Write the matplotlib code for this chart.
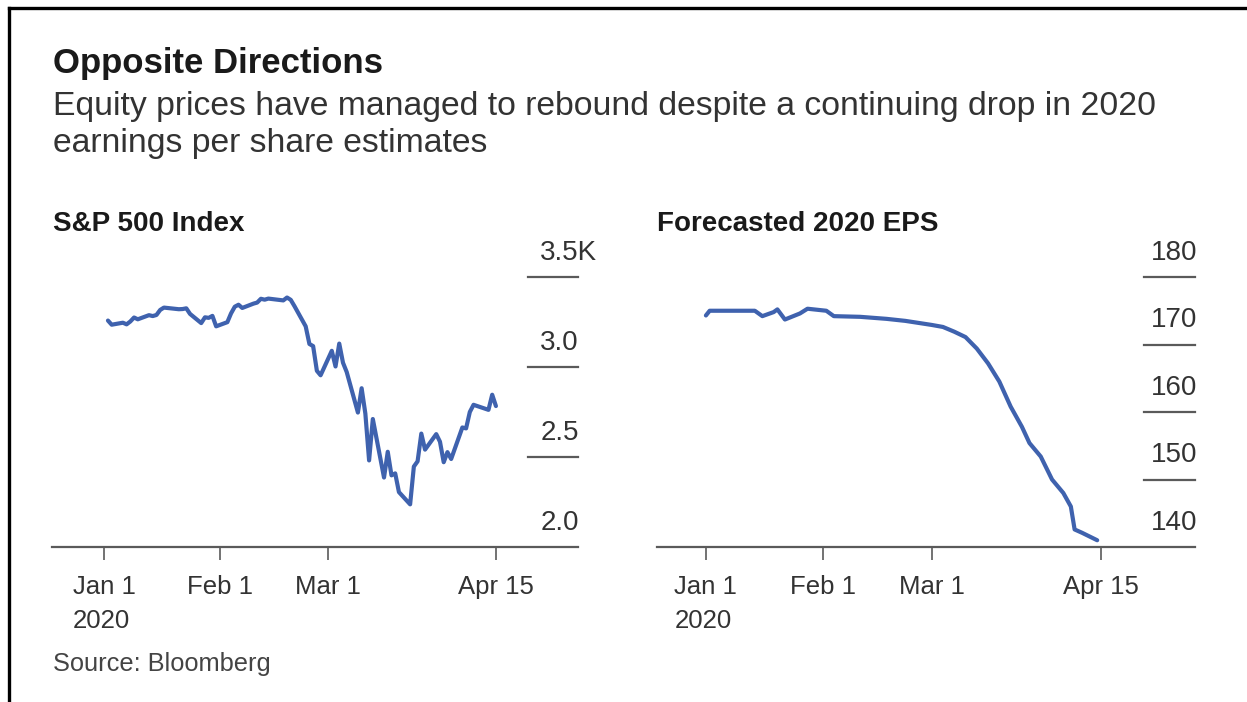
import pandas as pd
import matplotlib.pyplot as plt
from matplotlib.lines import Line2D

plt.rcParams['font.family'] = ['Liberation Sans', 'DejaVu Sans']

# S&P 500 daily closes, thousands
spx_dates = ["2020-01-02", "2020-01-03", "2020-01-06", "2020-01-07", "2020-01-08",
             "2020-01-09", "2020-01-10", "2020-01-13", "2020-01-14", "2020-01-15",
             "2020-01-16", "2020-01-17", "2020-01-21", "2020-01-22", "2020-01-23",
             "2020-01-24", "2020-01-27", "2020-01-28", "2020-01-29", "2020-01-30",
             "2020-01-31", "2020-02-03", "2020-02-04", "2020-02-05", "2020-02-06",
             "2020-02-07", "2020-02-10", "2020-02-11", "2020-02-12", "2020-02-13",
             "2020-02-14", "2020-02-18", "2020-02-19", "2020-02-20", "2020-02-21",
             "2020-02-24", "2020-02-25", "2020-02-26", "2020-02-27", "2020-02-28",
             "2020-03-02", "2020-03-03", "2020-03-04", "2020-03-05", "2020-03-06",
             "2020-03-09", "2020-03-10", "2020-03-11", "2020-03-12", "2020-03-13",
             "2020-03-16", "2020-03-17", "2020-03-18", "2020-03-19", "2020-03-20",
             "2020-03-23", "2020-03-24", "2020-03-25", "2020-03-26", "2020-03-27",
             "2020-03-30", "2020-03-31", "2020-04-01", "2020-04-02", "2020-04-03",
             "2020-04-06", "2020-04-07", "2020-04-08", "2020-04-09", "2020-04-13",
             "2020-04-14", "2020-04-15"]
spx_values = [3.258, 3.235, 3.246, 3.237, 3.253, 3.275, 3.265, 3.288, 3.283, 3.289,
              3.317, 3.330, 3.321, 3.322, 3.326, 3.295, 3.244, 3.276, 3.273, 3.284,
              3.226, 3.249, 3.298, 3.335, 3.346, 3.328, 3.352, 3.358, 3.379, 3.374,
              3.380, 3.370, 3.386, 3.373, 3.338, 3.226, 3.128, 3.116, 2.979, 2.954,
              3.090, 3.003, 3.130, 3.024, 2.972, 2.747, 2.882, 2.741, 2.481, 2.711,
              2.386, 2.529, 2.398, 2.409, 2.305, 2.237, 2.447, 2.476, 2.630, 2.541,
              2.627, 2.585, 2.471, 2.527, 2.489, 2.664, 2.659, 2.750, 2.790, 2.762,
              2.846, 2.783]

# forecasted 2020 EPS
eps_dates = ["2020-01-01", "2020-01-02", "2020-01-14", "2020-01-16", "2020-01-19",
             "2020-01-20", "2020-01-22", "2020-01-26", "2020-01-28", "2020-02-02",
             "2020-02-04", "2020-02-11", "2020-02-18", "2020-02-23", "2020-03-01",
             "2020-03-04", "2020-03-07", "2020-03-10", "2020-03-13", "2020-03-16",
             "2020-03-19", "2020-03-22", "2020-03-25", "2020-03-27", "2020-03-30",
             "2020-04-02", "2020-04-05", "2020-04-07", "2020-04-08", "2020-04-10",
             "2020-04-14"]
eps_values = [174.3, 175.0, 175.0, 174.2, 174.8, 175.2, 173.7, 174.6, 175.3, 175.0,
              174.2, 174.1, 173.8, 173.5, 172.9, 172.6, 171.9, 171.1, 169.4, 167.2,
              164.5, 160.8, 157.8, 155.4, 153.4, 150.0, 148.0, 146.0, 142.6, 142.1,
              141.0]

tick_dates = ["2020-01-01", "2020-02-01", "2020-03-01", "2020-04-15"]
tick_labels = ["Jan 1\n2020", "Feb 1", "Mar 1", "Apr 15"]

spx_ticks = [2.0, 2.5, 3.0, 3.5]
spx_tick_labels = ["2.0", "2.5", "3.0", "3.5K"]
eps_ticks = [140, 150, 160, 170, 180]
eps_tick_labels = ["140", "150", "160", "170", "180"]

line_color = "#3f62ae"
axis_color = "#5a5a5a"
text_color = "#333333"

W, H = 1247, 702
fig = plt.figure(figsize=(W / 100, H / 100), dpi=100)


def px_axes(x0, x1, ytop, ybot):
    return fig.add_axes([x0 / W, 1 - ybot / H, (x1 - x0) / W, (ybot - ytop) / H])


def style_panel(ax, dates, values, ticks, labels, xlim, label_x, dash_x0):
    ax.plot(pd.to_datetime(dates), values, color=line_color, lw=3.0,
            solid_joinstyle="round", solid_capstyle="round")
    ax.set_xlim(pd.Timestamp(xlim[0]), pd.Timestamp(xlim[1]))
    ax.set_ylim(ticks[0], ticks[-1])
    for s in ["top", "right", "left"]:
        ax.spines[s].set_visible(False)
    ax.spines["bottom"].set_color(axis_color)
    ax.spines["bottom"].set_linewidth(1.6)
    ax.set_xticks(pd.to_datetime(tick_dates))
    ax.set_xticklabels(tick_labels, fontsize=18.5, color=text_color,
                       linespacing=1.55)
    ax.get_xticklabels()[0].set_multialignment("left")
    ax.tick_params(axis="x", direction="out", length=9, width=1.2,
                   color=axis_color, pad=11)
    ax.set_yticks([])
    # value labels sit above short dashes at the right edge
    for v, lab in zip(ticks, labels):
        if v != ticks[0]:
            ax.plot([dash_x0, 1.0], [v, v], color=axis_color, lw=1.6,
                    transform=ax.get_yaxis_transform(), clip_on=False)
        ax.annotate(lab, xy=(label_x, v), xycoords=ax.get_yaxis_transform(),
                    xytext=(0, 8), textcoords="offset points",
                    ha="left", va="bottom", fontsize=20, color=text_color,
                    annotation_clip=False)


ax1 = px_axes(52, 578, 277, 547)
style_panel(ax1, spx_dates, spx_values, spx_ticks, spx_tick_labels,
            ("2019-12-18", "2020-05-07"), 0.928, 0.905)

ax2 = px_axes(657, 1195, 277, 547)
style_panel(ax2, eps_dates, eps_values, eps_ticks, eps_tick_labels,
            ("2019-12-19", "2020-05-10"), 0.918, 0.905)

fig.text(53 / W, 1 - 64 / H, "Opposite Directions", fontsize=25,
         fontweight="bold", color="#1a1a1a", va="center", ha="left")
fig.text(53 / W, 1 - 125 / H,
         "Equity prices have managed to rebound despite a continuing drop in 2020\n"
         "earnings per share estimates",
         fontsize=24.3, color=text_color, va="center", ha="left", linespacing=1.23)
fig.text(53 / W, 1 - 224 / H, "S&P 500 Index", fontsize=20, fontweight="bold",
         color="#1a1a1a", va="center", ha="left")
fig.text(657 / W, 1 - 224 / H, "Forecasted 2020 EPS", fontsize=20,
         fontweight="bold", color="#1a1a1a", va="center", ha="left")
fig.text(53 / W, 1 - 664 / H, "Source: Bloomberg", fontsize=18.3,
         color="#444444", va="center", ha="left")

# frame along top and left edge
fig.add_artist(Line2D([9 / W, 1], [1 - 8 / H, 1 - 8 / H], color="black", lw=2.4))
fig.add_artist(Line2D([9 / W, 9 / W], [0, 1 - 8 / H], color="black", lw=2.4))

fig.savefig("out.png", dpi=100, facecolor="white")
